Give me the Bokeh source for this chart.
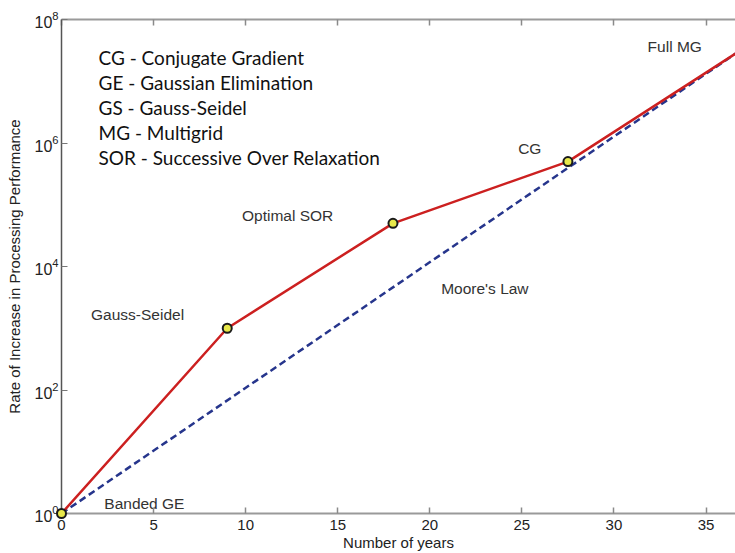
from bokeh.plotting import figure
from bokeh.models import Range1d, LinearAxis, FixedTicker
from bokeh.core.properties import value
from bokeh.embed import file_html
from bokeh.resources import INLINE

# ---- data ----
years = [0, 9, 18, 27.5, 36.6]
algo_perf = [1, 1e3, 5e4, 5e5, 2.8e7]
marker_years = [0, 9, 18, 27.5]
marker_perf = [1, 1e3, 5e4, 5e5]
moore_years = [0, 36.6]
moore_perf = [1, 2.8e7]

x_ticks = [0, 5, 10, 15, 20, 25, 30, 35]
y_ticks = [1, 1e2, 1e4, 1e6, 1e8]

ann_text = ["Gauss-Seidel", "Optimal SOR", "Moore's Law", "CG", "Full MG", "Banded GE"]
ann_x = [4.13, 12.28, 22.99, 25.43, 33.3, 4.5]
ann_y = [10 ** 3.22, 10 ** 4.83, 10 ** 3.64, 10 ** 5.91, 10 ** 7.56, 10 ** 0.16]

legend_lines = ["CG - Conjugate Gradient", "GE - Gaussian Elimination",
                "GS - Gauss-Seidel", "MG - Multigrid",
                "SOR - Successive Over Relaxation"]
legend_x = [2.01] * 5
legend_y = [10 ** 7.38, 10 ** 6.98, 10 ** 6.57, 10 ** 6.17, 10 ** 5.77]

FONT = "Liberation Sans"

p = figure(width=735, height=553, y_axis_type="log",
           x_range=Range1d(0, 36.6), y_range=Range1d(1, 1e8),
           output_backend="svg", toolbar_location=None,
           min_border_left=61, min_border_right=0,
           min_border_top=19, min_border_bottom=40)
p.background_fill_color = "white"
p.border_fill_color = "white"
p.outline_line_color = None
p.grid.visible = False

# bottom axis
xa = p.xaxis[0]
xa.ticker = FixedTicker(ticks=x_ticks)
xa.axis_label = "Number of years"
xa.axis_label_text_font = FONT
xa.axis_label_text_font_size = "15px"
xa.axis_label_text_font_style = "normal"
xa.axis_label_text_color = "#222222"
xa.axis_label_standoff = 1
xa.major_label_text_font = FONT
xa.major_label_text_font_size = "15px"
xa.major_label_text_color = "#222222"
xa.major_label_standoff = 6
xa.major_tick_in = 6
xa.major_tick_out = 0
xa.minor_tick_line_color = None
xa.axis_line_color = "#9a9a9a"
xa.axis_line_width = 2
xa.major_tick_line_color = "#8a8a8a"
xa.major_tick_line_width = 1.5

# left axis
ya = p.yaxis[0]
ya.ticker = FixedTicker(ticks=y_ticks)
ya.axis_label = "Rate of Increase in Processing Performance"
ya.axis_label_text_font = FONT
ya.axis_label_text_font_size = "15px"
ya.axis_label_text_font_style = "normal"
ya.axis_label_text_color = "#222222"
ya.axis_label_standoff = 8
ya.major_label_text_font = FONT
ya.major_label_text_font_size = "16px"
ya.major_label_text_color = "#222222"
ya.major_label_standoff = 3
ya.major_tick_in = 6
ya.major_tick_out = 0
ya.minor_tick_line_color = None
ya.axis_line_color = "#555555"
ya.axis_line_width = 1.5
ya.major_tick_line_color = "#777777"

# top axis (ticks only, labels not painted)
ta = LinearAxis(ticker=FixedTicker(ticks=x_ticks),
                major_label_text_font_size="2px",
                major_label_text_color=None,
                major_label_standoff=0,
                major_tick_in=6, major_tick_out=0,
                minor_tick_line_color=None,
                axis_line_color="#9a9a9a", axis_line_width=2,
                major_tick_line_color="#8a8a8a", major_tick_line_width=1.5)
p.add_layout(ta, "above")

# lines
p.line(moore_years, moore_perf, line_color="#26358c", line_width=2.5,
       line_dash="7 4")
p.line(years, algo_perf, line_color="#cc2020", line_width=2.5)
sc = p.scatter(marker_years, marker_perf, size=9, fill_color="#e8e84a",
               line_color="#1a1a1a", line_width=2)
sc.level = "overlay"

# annotations
p.text(x=ann_x, y=ann_y, text=ann_text, text_align="center",
       text_baseline="middle", text_font=value(FONT),
       text_font_size="15.5px", text_color="#333333")

p.text(x=legend_x, y=legend_y, text=legend_lines, text_align="left",
       text_baseline="middle", text_font=value("Lato"),
       text_font_size="19px", text_color="#111111")

open("out.html", "w").write(file_html(p, INLINE))
